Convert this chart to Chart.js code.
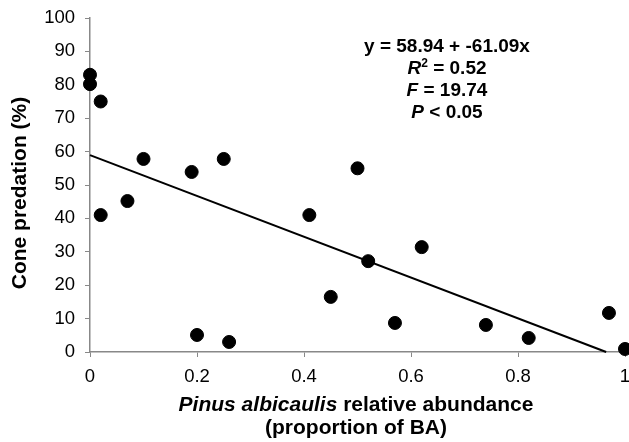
<!DOCTYPE html>
<html>
<head>
<meta charset="utf-8">
<script src="https://cdn.jsdelivr.net/npm/chart.js@4.4.1/dist/chart.umd.min.js"></script>
<style>
  html, body { margin: 0; padding: 0; background: #fff; }
  #wrap { width: 629px; height: 442px; }
</style>
</head>
<body>
<div id="wrap"><canvas id="coneChart" width="629" height="442"></canvas></div>
<script>
// Pinus albicaulis relative abundance (proportion of BA)
var abundance = [0, 0, 0.02, 0.02, 0.07, 0.10, 0.19, 0.20, 0.25, 0.26,
                 0.41, 0.45, 0.50, 0.52, 0.57, 0.62, 0.74, 0.82, 0.97, 1.00];
// Cone predation (%)
var predation = [83, 80.2, 75, 41, 45.2, 57.8, 53.9, 5.1, 57.8, 3,
                 41, 16.5, 55, 27.2, 8.7, 31.4, 8.1, 4.2, 11.7, 0.9];

var xTickLabels = ['0', '0.2', '0.4', '0.6', '0.8', '1'];
var yTickLabels = ['0', '10', '20', '30', '40', '50', '60', '70', '80', '90', '100'];

// regression reported on the figure
var intercept = 58.94;
var slope = -61.09;
var trendX = [0, -intercept / slope];

var FONT = '"Liberation Sans", Arial, sans-serif';

// draw a line made of runs with different styles, centred on cx
function drawRuns(ctx, runs, cx, y) {
    var total = 0;
    runs.forEach(function (r) {
        ctx.font = r.font;
        total += ctx.measureText(r.text).width;
    });
    var x = cx - total / 2;
    runs.forEach(function (r) {
        ctx.font = r.font;
        ctx.fillText(r.text, x, y + (r.dy || 0));
        x += ctx.measureText(r.text).width;
    });
}

var textPlugin = {
    id: 'figureText',
    afterDraw: function (chart) {
        var ctx = chart.ctx;
        var b = 'bold 19px ' + FONT;
        var bi = 'italic bold 19px ' + FONT;
        var t = 'bold 21px ' + FONT;
        var ti = 'italic bold 21px ' + FONT;
        ctx.save();
        ctx.fillStyle = '#000';
        ctx.textAlign = 'left';
        ctx.textBaseline = 'middle';

        // y axis title
        ctx.save();
        ctx.translate(20, 193);
        ctx.rotate(-Math.PI / 2);
        ctx.textAlign = 'center';
        ctx.font = t;
        ctx.fillText('Cone predation (%)', 0, 0);
        ctx.restore();

        // x axis title, two lines
        var cx = 356;
        drawRuns(ctx, [{text: 'Pinus albicaulis', font: ti},
                       {text: ' relative abundance', font: t}], cx, 405);
        drawRuns(ctx, [{text: '(proportion of BA)', font: t}], cx, 428);

        // regression statistics
        var sx = 447;
        drawRuns(ctx, [{text: 'y = 58.94 + -61.09x', font: b}], sx, 47);
        drawRuns(ctx, [{text: 'R', font: bi},
                       {text: '2', font: 'bold 12px ' + FONT, dy: -5},
                       {text: ' = 0.52', font: b}], sx, 69);
        drawRuns(ctx, [{text: 'F', font: bi}, {text: ' = 19.74', font: b}], sx, 91);
        drawRuns(ctx, [{text: 'P', font: bi}, {text: ' < 0.05', font: b}], sx, 113);
        ctx.restore();
    }
};

var points = abundance.map(function (x, i) { return {x: x, y: predation[i]}; });
var trend = trendX.map(function (x) { return {x: x, y: intercept + slope * x}; });

var coneChart = new Chart(document.getElementById('coneChart'), {
    type: 'scatter',
    data: {
        datasets: [
            {
                label: 'Sites',
                data: points,
                backgroundColor: '#000',
                borderColor: '#000',
                pointRadius: 6.5,
                pointHoverRadius: 6.5,
                clip: false
            },
            {
                label: 'Fit',
                type: 'line',
                data: trend,
                borderColor: '#000',
                borderWidth: 2,
                pointRadius: 0,
                fill: false,
                clip: false
            }
        ]
    },
    options: {
        responsive: false,
        animation: false,
        events: [],
        layout: {autoPadding: false, padding: {left: 0, right: 4, top: 18, bottom: 0}},
        plugins: {legend: {display: false}, tooltip: {enabled: false}},
        scales: {
            x: {
                type: 'linear',
                min: 0,
                max: 1,
                afterFit: function (scale) {
                    scale.height = 90;
                    scale.paddingLeft = 0;
                    scale.paddingRight = 0;
                },
                afterBuildTicks: function (scale) {
                    scale.ticks = xTickLabels.map(function (t) { return {value: parseFloat(t)}; });
                },
                ticks: {
                    color: '#000',
                    font: {family: FONT, size: 18.5},
                    padding: 9,
                    maxRotation: 0,
                    callback: function (v, i) { return xTickLabels[i]; }
                },
                grid: {drawOnChartArea: false, drawTicks: true, tickLength: 5, color: '#888'},
                border: {color: '#888', width: 1.5}
            },
            y: {
                type: 'linear',
                min: 0,
                max: 100,
                afterFit: function (scale) {
                    scale.width = 90;
                    scale.paddingTop = 0;
                    scale.paddingBottom = 0;
                },
                afterBuildTicks: function (scale) {
                    scale.ticks = yTickLabels.map(function (t) { return {value: parseFloat(t)}; });
                },
                ticks: {
                    color: '#000',
                    font: {family: FONT, size: 18.5},
                    padding: 10,
                    callback: function (v, i) { return yTickLabels[i]; }
                },
                grid: {drawOnChartArea: false, drawTicks: true, tickLength: 5, color: '#888'},
                border: {color: '#888', width: 1.5}
            }
        }
    },
    plugins: [textPlugin]
});
</script>
</body>
</html>
